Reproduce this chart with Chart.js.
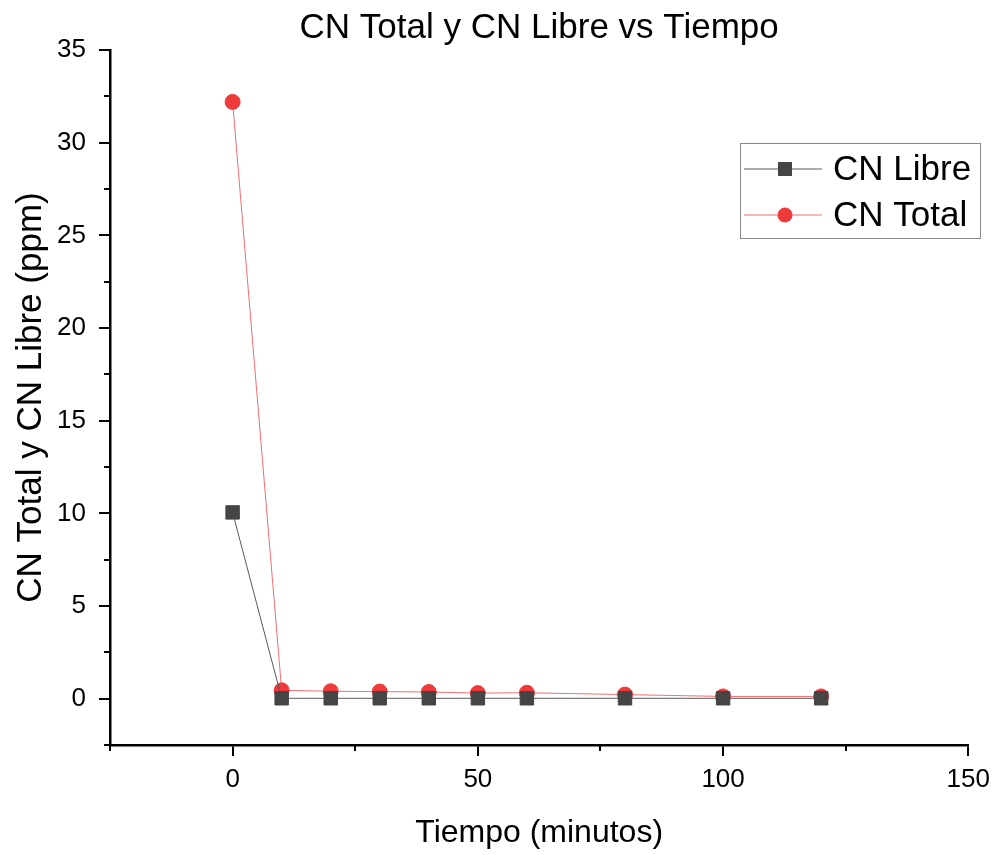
<!DOCTYPE html>
<html>
<head>
<meta charset="utf-8">
<script src="https://cdn.jsdelivr.net/npm/chart.js@4.4.1/dist/chart.umd.min.js"></script>
<style>
html,body{margin:0;padding:0;background:#fff;}
#wrap{width:998px;height:855px;position:relative;}
</style>
</head>
<body>
<div id="wrap"><canvas id="c" width="998" height="855"></canvas></div>
<script>
const tiempo = [0, 10, 20, 30, 40, 50, 60, 80, 100, 120];
const cnLibre = [10.05, 0.02, 0.02, 0.02, 0.02, 0.02, 0.02, 0.02, 0.02, 0.02];
const cnTotal = [32.2, 0.45, 0.4, 0.38, 0.36, 0.3, 0.32, 0.22, 0.12, 0.12];
const xTicks = [0, 50, 100, 150];
const yTicks = [0, 5, 10, 15, 20, 25, 30, 35];
const xMinorTicks = [-25, 25, 75, 125];
const yMinorTicks = [-2.5, 2.5, 7.5, 12.5, 17.5, 22.5, 27.5, 32.5];
const seriesNames = ['CN Libre', 'CN Total'];

const FONT = "'Liberation Sans', Arial, sans-serif";

const extras = {
  id: 'extras',
  afterDraw(chart) {
    const ctx = chart.ctx;
    const xs = chart.scales.x, ys = chart.scales.y;
    const area = chart.chartArea;
    ctx.save();
    ctx.strokeStyle = '#000';
    ctx.lineWidth = 2;
    // minor ticks
    xMinorTicks.forEach(v => {
      const px = Math.round(xs.getPixelForValue(v));
      ctx.beginPath(); ctx.moveTo(px, area.bottom); ctx.lineTo(px, area.bottom + 6); ctx.stroke();
    });
    yMinorTicks.forEach(v => {
      const py = Math.round(ys.getPixelForValue(v));
      ctx.beginPath(); ctx.moveTo(area.left, py); ctx.lineTo(area.left - 6, py); ctx.stroke();
    });
    // legend
    const bx = 740, by = 143, bw = 240, bh = 95;
    ctx.fillStyle = '#fff';
    ctx.fillRect(bx, by, bw, bh);
    ctx.strokeStyle = '#8a8a8a';
    ctx.lineWidth = 1;
    ctx.strokeRect(bx + 0.5, by + 0.5, bw, bh);
    chart.data.datasets.forEach((ds, i) => {
      const y = by + 26 + i * 46;
      ctx.strokeStyle = ds.borderColor;
      ctx.lineWidth = 1;
      ctx.beginPath(); ctx.moveTo(bx + 4, y); ctx.lineTo(bx + 82, y); ctx.stroke();
      ctx.fillStyle = ds.pointBackgroundColor;
      if (ds.pointStyle === 'rect') {
        ctx.fillRect(bx + 38, y - 7, 14, 14);
      } else {
        ctx.beginPath(); ctx.arc(bx + 45, y, 7.5, 0, Math.PI * 2); ctx.fill();
      }
      ctx.fillStyle = '#000';
      ctx.font = '35px ' + FONT;
      ctx.textBaseline = 'middle';
      ctx.textAlign = 'left';
      ctx.fillText(ds.label, bx + 93, y + 1);
    });
    ctx.restore();
  }
};

new Chart(document.getElementById('c'), {
  type: 'line',
  data: {
    datasets: [
      {
        label: seriesNames[0],
        data: tiempo.map((t, i) => ({x: t, y: cnLibre[i]})),
        borderColor: '#5a5a5a',
        backgroundColor: '#454545',
        pointBackgroundColor: '#454545',
        pointBorderColor: '#454545',
        pointStyle: 'rect',
        pointRadius: 9.5,
        borderWidth: 1,
        tension: 0
      },
      {
        label: seriesNames[1],
        data: tiempo.map((t, i) => ({x: t, y: cnTotal[i]})),
        borderColor: '#f07070',
        backgroundColor: '#ee3a3a',
        pointBackgroundColor: '#ee3a3a',
        pointBorderColor: '#ee3a3a',
        pointStyle: 'circle',
        pointRadius: 7.5,
        borderWidth: 1,
        tension: 0
      }
    ]
  },
  options: {
    responsive: false,
    animation: false,
    layout: {padding: {left: 0, right: 28, top: 0, bottom: 0}},
    plugins: {
      legend: {display: false},
      tooltip: {enabled: false},
      title: {
        display: true,
        fullSize: false,
        text: 'CN Total y CN Libre vs Tiempo',
        color: '#000',
        font: {family: FONT, size: 35, weight: 'normal'},
        padding: {top: 7, bottom: 1}
      }
    },
    scales: {
      x: {
        type: 'linear',
        min: -25, max: 150,
        afterBuildTicks: s => { s.ticks = xTicks.map(v => ({value: v})); },
        afterFit: s => { s.height = 110; },
        border: {display: true, color: '#000', width: 2.5},
        grid: {drawOnChartArea: false, drawTicks: true, tickLength: 11, color: '#000', lineWidth: 2},
        ticks: {color: '#000', font: {family: FONT, size: 26}, padding: 8, maxRotation: 0},
        title: {display: true, text: 'Tiempo (minutos)', color: '#000', font: {family: FONT, size: 32}, padding: {top: 4, bottom: 3}}
      },
      y: {
        type: 'linear',
        min: -2.5, max: 35,
        afterBuildTicks: s => { s.ticks = yTicks.map(v => ({value: v})); },
        afterFit: s => { s.width = 110; },
        border: {display: true, color: '#000', width: 2.5},
        grid: {drawOnChartArea: false, drawTicks: true, tickLength: 11, color: '#000', lineWidth: 2},
        ticks: {color: '#000', font: {family: FONT, size: 26}, padding: 13},
        title: {display: true, text: 'CN Total y CN Libre (ppm)', color: '#000', font: {family: FONT, size: 35}, padding: {top: 10, bottom: 4}}
      }
    }
  },
  plugins: [extras]
});
</script>
</body>
</html>
